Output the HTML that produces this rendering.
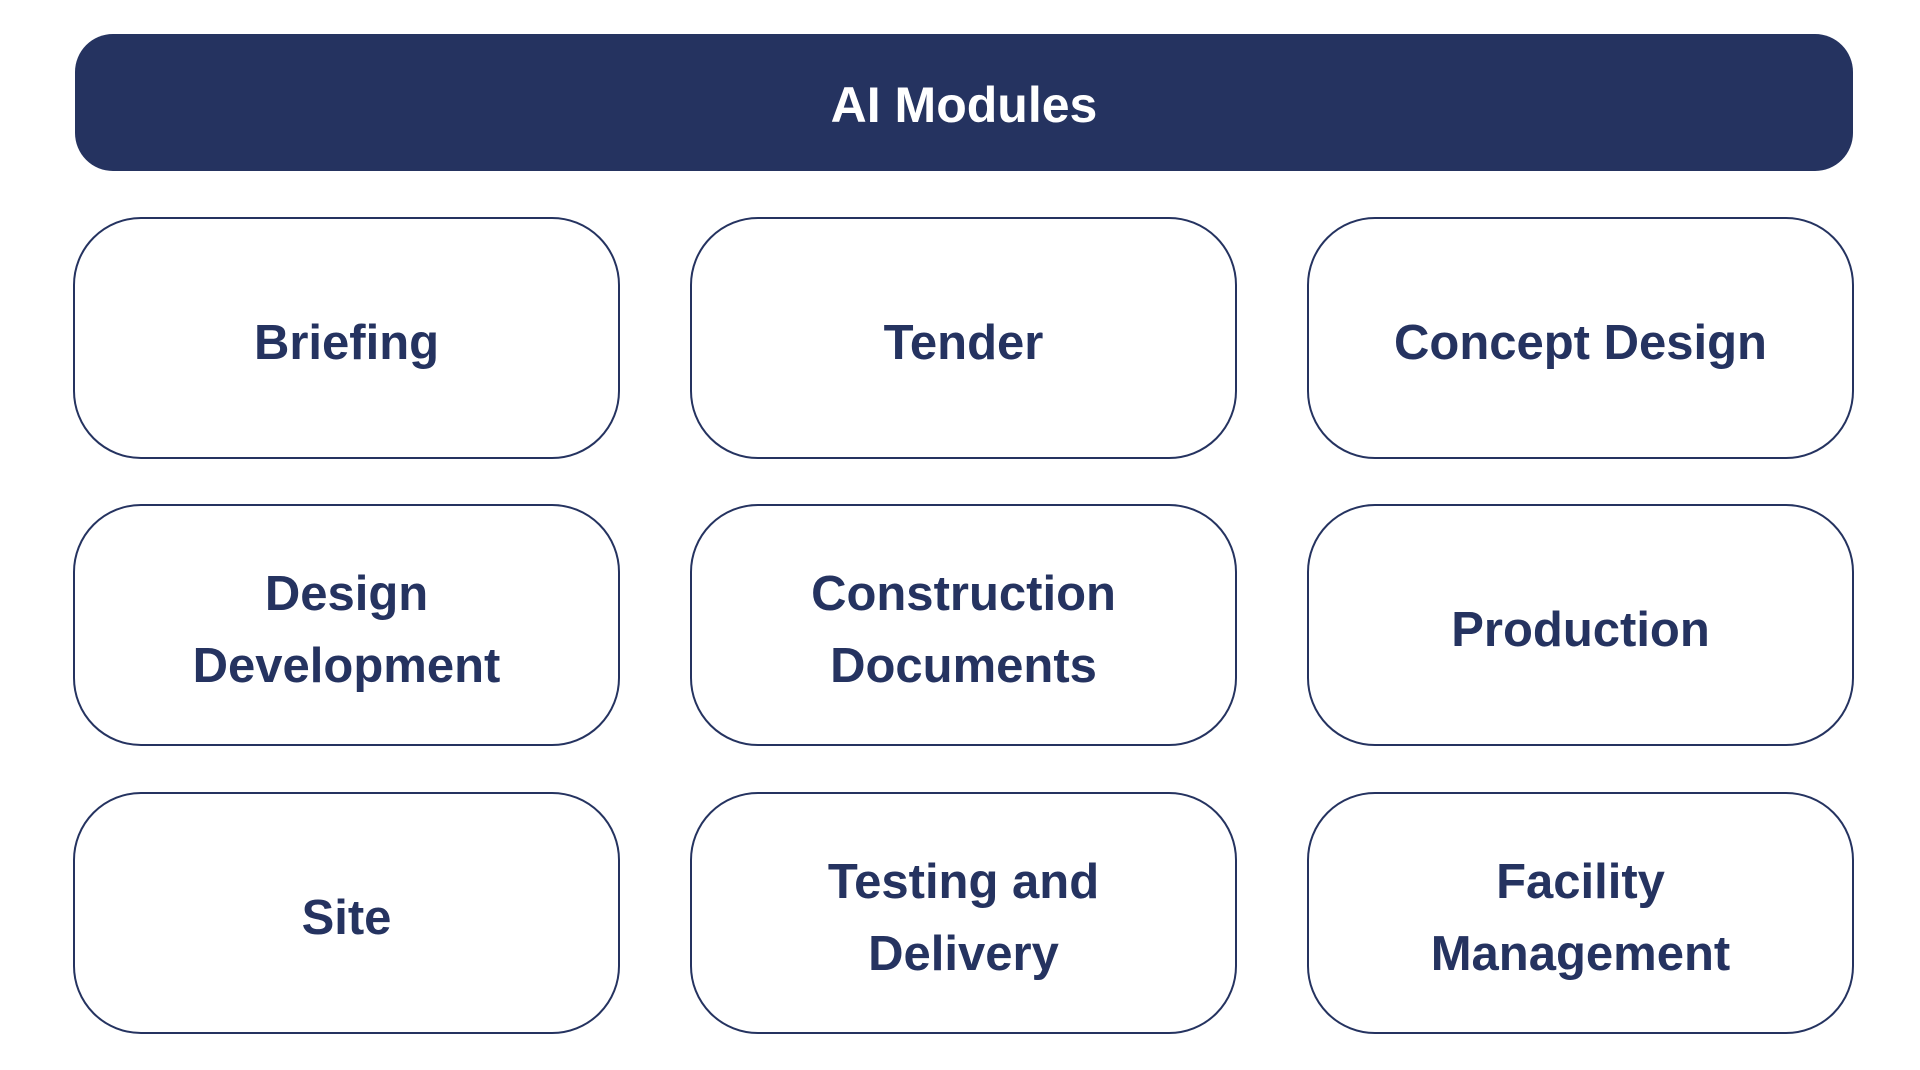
<!DOCTYPE html>
<html><head><meta charset="utf-8"><style>
html,body{margin:0;padding:0;background:#fff;width:1920px;height:1070px;overflow:hidden}
body{position:relative;font-family:"Liberation Sans",sans-serif;font-weight:bold;color:#253360}
.h{position:absolute;left:75px;top:34px;width:1778px;height:137px;background:#253360;border-radius:38px;color:#fff;display:flex;align-items:center;justify-content:center;font-size:50px;box-sizing:border-box;padding-top:4px}
.b{position:absolute;width:543px;height:238px;border:2.5px solid #253360;border-radius:68px;display:flex;align-items:center;justify-content:center;text-align:center;font-size:49px;line-height:72px;box-sizing:content-box}
.b span{position:relative;top:5px}
</style></head><body>
<div class="h">AI Modules</div>
<div class="b" style="left:73px;top:217px"><span>Briefing</span></div>
<div class="b" style="left:690px;top:217px"><span>Tender</span></div>
<div class="b" style="left:1307px;top:217px"><span>Concept Design</span></div>
<div class="b" style="left:73px;top:504px"><span>Design<br>Development</span></div>
<div class="b" style="left:690px;top:504px"><span>Construction<br>Documents</span></div>
<div class="b" style="left:1307px;top:504px"><span>Production</span></div>
<div class="b" style="left:73px;top:792px"><span>Site</span></div>
<div class="b" style="left:690px;top:792px"><span>Testing and<br>Delivery</span></div>
<div class="b" style="left:1307px;top:792px"><span>Facility<br>Management</span></div>
</body></html>
